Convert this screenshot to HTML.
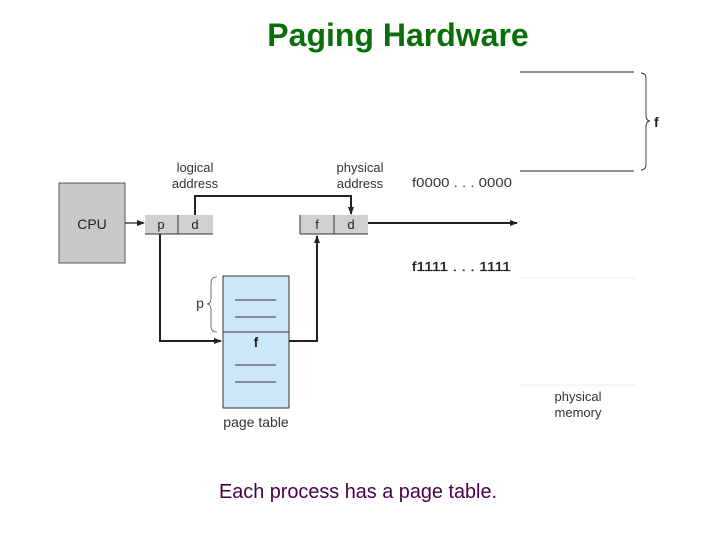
<!DOCTYPE html>
<html><head><style>
body{margin:0;width:720px;height:540px;background:#fff;overflow:hidden;font-family:"Liberation Sans",sans-serif;}
</style></head><body>
<svg width="720" height="540" xmlns="http://www.w3.org/2000/svg" font-family="Liberation Sans, sans-serif">
<defs><marker id="a" markerWidth="8" markerHeight="8" refX="7" refY="4" orient="auto" markerUnits="userSpaceOnUse"><path d="M0,1 L8,4 L0,7 Z" fill="#222"/></marker></defs>
<text x="398" y="46" text-anchor="middle" font-size="32" font-weight="bold" fill="#0a6e0a">Paging Hardware</text>
<!-- CPU -->
<rect x="59" y="183" width="66" height="80" fill="#c8c8c8" stroke="#333" stroke-width="0.8"/>
<text x="92" y="229" text-anchor="middle" font-size="14" fill="#222">CPU</text>
<!-- logical addr -->
<rect x="145" y="215" width="68" height="19" fill="#d0d0d0"/>
<line x1="145" y1="234" x2="213" y2="234" stroke="#333"/>
<line x1="178" y1="215" x2="178" y2="234" stroke="#333"/>
<text x="161" y="229" text-anchor="middle" font-size="13" fill="#222">p</text>
<text x="195" y="229" text-anchor="middle" font-size="13" fill="#222">d</text>
<text x="195" y="172" text-anchor="middle" font-size="13" fill="#333">logical</text>
<text x="195" y="188" text-anchor="middle" font-size="13" fill="#333">address</text>
<!-- physical addr -->
<rect x="300" y="215" width="68" height="19" fill="#d0d0d0"/>
<line x1="300" y1="215" x2="300" y2="234" stroke="#333"/>
<line x1="300" y1="234" x2="368" y2="234" stroke="#333"/>
<line x1="334" y1="215" x2="334" y2="234" stroke="#333"/>
<text x="317" y="229" text-anchor="middle" font-size="13" fill="#222">f</text>
<text x="351" y="229" text-anchor="middle" font-size="13" fill="#222">d</text>
<text x="360" y="172" text-anchor="middle" font-size="13" fill="#333">physical</text>
<text x="360" y="188" text-anchor="middle" font-size="13" fill="#333">address</text>
<!-- page table -->
<rect x="223" y="276" width="66" height="132" fill="#cce8f8" stroke="#333" stroke-width="1"/>
<line x1="223" y1="332" x2="289" y2="332" stroke="#333"/>
<g stroke="#333" stroke-width="1"><line x1="235" y1="300" x2="276" y2="300"/><line x1="235" y1="317" x2="276" y2="317"/><line x1="235" y1="365" x2="276" y2="365"/><line x1="235" y1="382" x2="276" y2="382"/></g>
<text x="256" y="347" text-anchor="middle" font-size="14" font-weight="bold" fill="#222">f</text>
<text x="256" y="427" text-anchor="middle" font-size="14" fill="#333">page table</text>
<text x="200" y="308" text-anchor="middle" font-size="14" fill="#333">p</text>
<path d="M217,277 Q211,277 211,283 L211,298 Q211,304 207,304 Q211,304 211,310 L211,326 Q211,332 217,332" fill="none" stroke="#555" stroke-width="0.8"/>
<!-- arrows -->
<g stroke="#222" stroke-width="2" fill="none">
<line x1="125" y1="223" x2="144" y2="223" stroke-width="1.2" marker-end="url(#a)"/>
<polyline points="160,234 160,341 221,341" marker-end="url(#a)"/>
<polyline points="195,215 195,196 351,196 351,214" marker-end="url(#a)"/>
<polyline points="289,341 317,341 317,236" marker-end="url(#a)"/>
<line x1="368" y1="223" x2="517" y2="223" marker-end="url(#a)"/>
</g>
<!-- memory -->
<text x="412" y="187" font-size="13" fill="#333" textLength="100" lengthAdjust="spacingAndGlyphs">f0000 . . . 0000</text>
<text x="412" y="271" font-size="13" fill="#222" stroke="#222" stroke-width="0.3" textLength="99" lengthAdjust="spacingAndGlyphs">f1111 . . . 1111</text>
<line x1="520" y1="72" x2="634" y2="72" stroke="#222"/>
<line x1="520" y1="171" x2="634" y2="171" stroke="#222"/>
<line x1="520" y1="278" x2="636" y2="278" stroke="#eee"/>
<line x1="520" y1="385" x2="636" y2="385" stroke="#eee"/>
<path d="M641,73 Q646,73 646,79 L646,115 Q646,121 650,121 Q646,121 646,127 L646,164 Q646,170 641,170" fill="none" stroke="#333" stroke-width="0.9"/>
<text x="654" y="127" font-size="14" font-weight="bold" fill="#222">f</text>
<text x="578" y="401" text-anchor="middle" font-size="13" fill="#333">physical</text>
<text x="578" y="417" text-anchor="middle" font-size="13" fill="#333">memory</text>
<text x="358" y="498" text-anchor="middle" font-size="20" fill="#4a0048" textLength="278" lengthAdjust="spacingAndGlyphs">Each process has a page table.</text>
</svg>
</body></html>
